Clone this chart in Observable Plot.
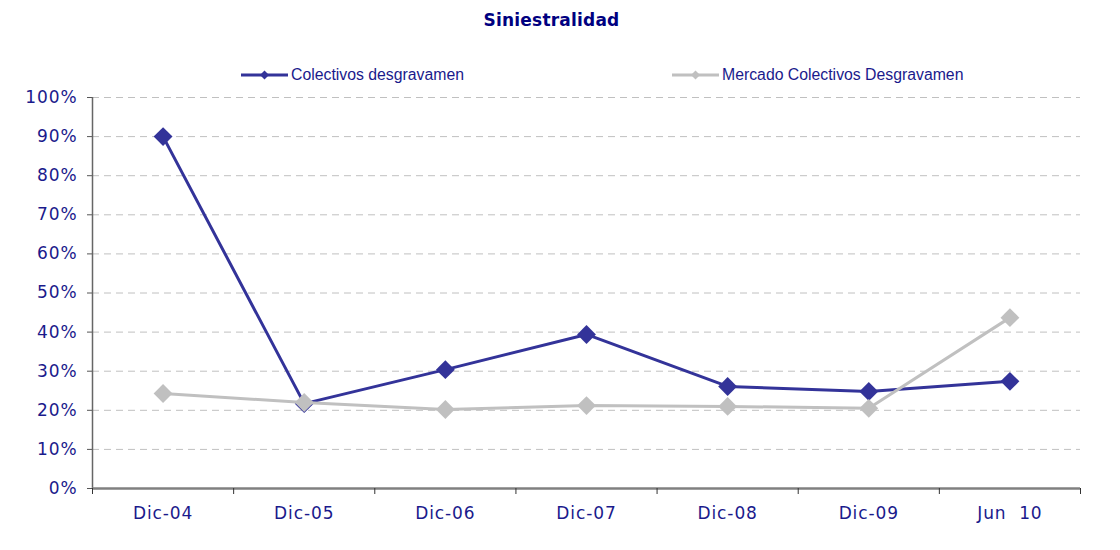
<!DOCTYPE html>
<html>
<head>
<meta charset="utf-8">
<script src="https://cdn.jsdelivr.net/npm/d3@7"></script>
<script src="https://cdn.jsdelivr.net/npm/@observablehq/plot@0.6"></script>
<style>
  html, body { margin: 0; padding: 0; background: #fff; }
  #wrap { position: relative; width: 1120px; height: 550px; overflow: hidden; }
  #chart { position: absolute; top: 0; left: 0; z-index: 1; }
  #chart svg text { white-space: pre; letter-spacing: 0.9px; }
  #title { position: absolute; z-index: 2; top: 10px; left: 0; width: 1103px; text-align: center;
           font-family: "DejaVu Sans", Verdana, sans-serif; font-weight: bold; font-size: 17px; letter-spacing: 0.2px; color: #000080; }
  .leg { position: absolute; z-index: 2; top: 66px; display: flex; align-items: center;
         font-family: "Liberation Sans", Arial, sans-serif; font-size: 15.8px; color: #1a1a8c; white-space: nowrap; }
  .leg svg { display: block; margin-right: 3px; }
</style>
</head>
<body>
<div id="wrap">
  <div id="chart"></div>
  <div id="title">Siniestralidad</div>
  <div class="leg" id="leg1"></div>
  <div class="leg" id="leg2"></div>
</div>
<script>
const categories = ["Dic-04", "Dic-05", "Dic-06", "Dic-07", "Dic-08", "Dic-09", "Jun  10"];
const seriesNames = ["Colectivos desgravamen", "Mercado Colectivos Desgravamen"];
const colectivos = [0.900, 0.217, 0.304, 0.394, 0.261, 0.248, 0.274];
const mercado = [0.243, 0.220, 0.202, 0.212, 0.210, 0.205, 0.437];
const yTicks = [0, 0.1, 0.2, 0.3, 0.4, 0.5, 0.6, 0.7, 0.8, 0.9, 1.0];
const colors = ["#333399", "#c0c0c0"];

const rows = [];
[colectivos, mercado].forEach((vals, s) => {
  vals.forEach((v, i) => rows.push({series: seriesNames[s], cat: categories[i], pos: i + 0.5, value: v}));
});
const bounds = d3.range(categories.length + 1);
const centers = categories.map((c, i) => i + 0.5);

const chart = Plot.plot({
  width: 1120,
  height: 550,
  marginTop: 97,
  marginBottom: 62,
  marginLeft: 92,
  marginRight: 40,
  style: {fontFamily: "DejaVu Sans, Verdana, sans-serif", fontSize: "17px", color: "#1a1a8c", background: "transparent"},
  x: {type: "linear", domain: [0, categories.length]},
  y: {domain: [0, 1]},
  color: {domain: seriesNames, range: colors},
  marks: [
    Plot.ruleY(yTicks.filter(d => d > 0), {stroke: "#c0c0c0", strokeWidth: 1, strokeDasharray: "7,5"}),
    Plot.axisY({ticks: yTicks, tickFormat: d3.format(".0%"), tickSize: 5, tickPadding: 10, stroke: "#555", fill: "#1a1a8c", label: null, fontSize: 17}),
    Plot.ruleX([0], {stroke: "#666", strokeWidth: 1.5}),
    Plot.ruleY([0], {stroke: "#808080", strokeWidth: 2.5}),
    Plot.axisX({ticks: bounds, tickFormat: () => "", tickSize: 6, stroke: "#333", label: null}),
    Plot.axisX({ticks: centers, tickFormat: (d, i) => categories[i], tickSize: 0, tickPadding: 18, fill: "#1a1a8c", label: null, fontSize: 17}),
    Plot.line(rows.filter(r => r.series === seriesNames[0]), {x: "pos", y: "value", stroke: colors[0], strokeWidth: 3}),
    Plot.dot(rows.filter(r => r.series === seriesNames[0]), {x: "pos", y: "value", fill: colors[0], symbol: "diamond2", r: 8.5}),
    Plot.line(rows.filter(r => r.series === seriesNames[1]), {x: "pos", y: "value", stroke: colors[1], strokeWidth: 3}),
    Plot.dot(rows.filter(r => r.series === seriesNames[1]), {x: "pos", y: "value", fill: colors[1], symbol: "diamond2", r: 8.5})
  ]
});
document.getElementById("chart").appendChild(chart);

function legend(id, left, name, color) {
  const el = document.getElementById(id);
  el.style.left = left + "px";
  el.innerHTML = `<svg width="47" height="16"><line x1="0" y1="8" x2="47" y2="8" stroke="${color}" stroke-width="3"/>` +
    `<path d="M23.5,3.5 L28,8 L23.5,12.5 L19,8 Z" fill="${color}"/></svg><span>${name}</span>`;
}
legend("leg1", 241, seriesNames[0], colors[0]);
legend("leg2", 672, seriesNames[1], colors[1]);
</script>
</body>
</html>
